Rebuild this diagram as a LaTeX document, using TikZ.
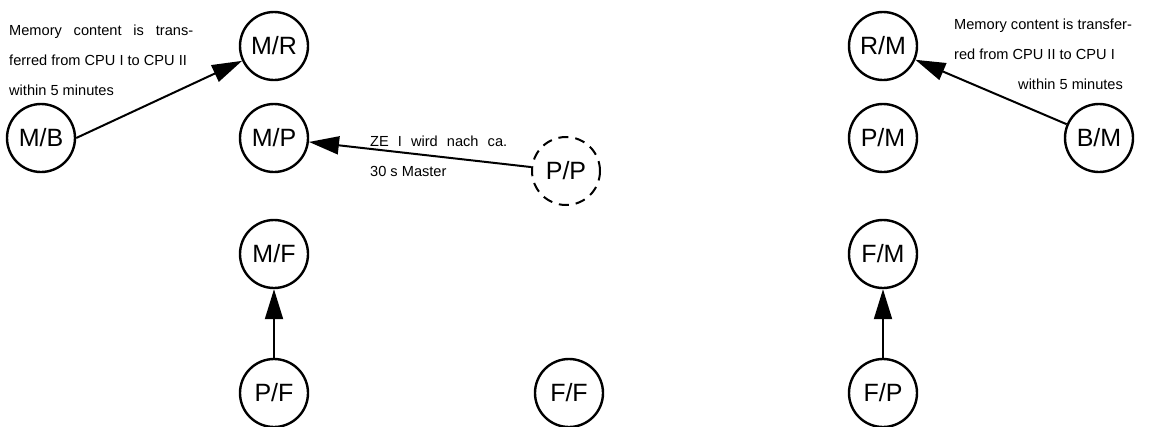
\documentclass[tikz,border=0pt]{standalone}
\usepackage{fontspec}
\setmainfont{Liberation Sans}
\usetikzlibrary{arrows.meta}

\begin{document}
\begin{tikzpicture}[
    x=1pt, y=-1pt,
    state/.style={draw, circle, line width=2.4pt, minimum size=68pt, inner sep=0pt, font=\fontsize{25}{30}\selectfont},
    standby/.style={state, line width=2pt, dash pattern=on 10pt off 7pt},
    note/.style={anchor=north west, inner sep=0pt, align=left, font=\fontsize{14.6}{30}\selectfont},
    arrow/.style={-{Triangle[length=30pt,width=18pt]}, line width=2pt}
]
\useasboundingbox (0,0) rectangle (1151,426);

% CPU I side
\node[state] (mb) at (41,138) {M/B};
\node[state] (mr) at (274,46) {M/R};
\node[state] (mp) at (274,138) {M/P};
\node[state] (mf) at (274,254) {M/F};
\node[state] (pf) at (274,393) {P/F};

% both passive
\node[standby] (pp) at (566,171) {P/P};
\node[state] (ff) at (569,393) {F/F};

% CPU II side
\node[state] (rm) at (883,46) {R/M};
\node[state] (pm) at (883,138) {P/M};
\node[state] (bm) at (1099,138) {B/M};
\node[state] (fm) at (883,254) {F/M};
\node[state] (fp) at (883,393) {F/P};

% notes
\node[note] (noteleft) at (9,25)
  {\makebox[184pt][s]{Memory content is trans-}\\ferred from CPU I to CPU II\\within 5 minutes};
\node[note] (notemid) at (370,136)
  {\makebox[137pt][s]{ZE I wird nach ca.}\\30 s Master};
\node[note] (noteright) at (954,19)
  {Memory content is transfer-\\red from CPU II to CPU I\\\hspace*{64pt}within 5 minutes};

\draw[arrow] (mb.east) -- (mr);
\draw[arrow] (pp) -- (mp);
\draw[arrow] (pf) -- (mf);
\draw[arrow] (bm) -- (rm);
\draw[arrow] (fp) -- (fm);
\end{tikzpicture}
\end{document}
